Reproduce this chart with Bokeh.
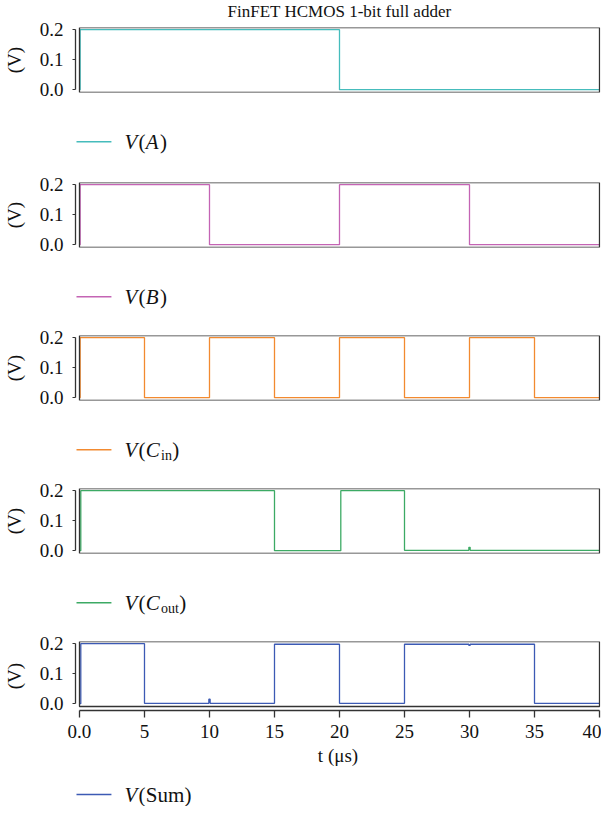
from bokeh.plotting import figure
from bokeh.models import (Range1d, FixedTicker, BoxAnnotation, Label, Arrow,
                          PrintfTickFormatter)
from bokeh.layouts import column
from bokeh.embed import file_html
from bokeh.resources import INLINE

# ---------------- data ----------------
title_text = "FinFET HCMOS 1-bit full adder"

t_a = [0.0, 0.05, 20.0, 40.0]
v_a = [0.0, 0.2, 0.0, 0.0]

t_b = [0.0, 0.05, 10.0, 20.0, 30.0, 40.0]
v_b = [0.0, 0.2, 0.0, 0.2, 0.0, 0.0]

t_cin = [0.0, 0.05, 5.0, 10.0, 15.0, 20.0, 25.0, 30.0, 35.0, 40.0]
v_cin = [0.0, 0.2, 0.0, 0.2, 0.0, 0.2, 0.0, 0.2, 0.0, 0.0]

t_cout = [0.0, 0.1, 15.0, 20.1, 25.0, 29.95, 30.05, 40.0]
v_cout = [0.0, 0.2, 0.0, 0.2, 0.001, 0.011, 0.001, 0.001]

t_sum = [0.0, 0.1, 5.0, 9.95, 10.05, 15.0, 20.0, 25.0, 29.95, 30.05, 35.0, 40.0]
v_sum = [0.0, 0.2, 0.001, 0.015, 0.001, 0.198, 0.001, 0.198, 0.194, 0.198, 0.001, 0.001]

series_t = [t_a, t_b, t_cin, t_cout, t_sum]
series_v = [v_a, v_b, v_cin, v_cout, v_sum]
series_colors = ["#45bcbc", "#c464b4", "#f28a30", "#3caa64", "#3c5ab4"]
legend_main = ["A", "B", "C", "C", "Sum"]
legend_main_italic = [True, True, True, True, False]
legend_sub = ["", "", "in", "out", ""]

y_ticks = [0.0, 0.1, 0.2]
x_ticks = [0, 5, 10, 15, 20, 25, 30, 35, 40]
x_label = "t (μs)"
y_label = "(V)"

# ---------------- geometry / style ----------------
FONT = "Liberation Serif"
W = 601
BL, BR = 74, 1
FRAME_W = W - BL - BR
KX = 521 / 40.0          # px per µs
KY = 300.0               # px per V
X_END = 40.0 + BR / KX
X_START = X_END - FRAME_W / KX
Y_TOP = 0.2072
FRAME_H = 65
Y_BOT = Y_TOP - FRAME_H / KY
FRAME_H5 = 69
Y_BOT5 = Y_TOP - FRAME_H5 / KY
TICK_FS = "19px"
LAB_FS = "19px"
FS = 21
SUBFS = 14
SUBDROP = 6
GAP = 0.3

W_REG = {"(": .333, ")": .333, "S": .556, "u": .5, "m": .778, "i": .278,
         "n": .5, "o": .5, "t": .278}
W_IT = {"V": .611, "A": .611, "B": .611, "C": .667, "(": .333, ")": .333}


def tw(text, italic, fs):
    tab = W_IT if italic else W_REG
    return sum(tab.get(c, .5) for c in text) * fs + (1.0 if italic else 0.0)


def px2x(px):
    return X_START + (px - BL) / KX


def strip(h):
    s = figure(width=W, height=h, x_range=Range1d(X_START, X_END),
               y_range=Range1d(-h, 0),
               min_border_left=BL, min_border_right=BR,
               min_border_top=0, min_border_bottom=0,
               x_axis_location=None, y_axis_location=None,
               outline_line_color=None, toolbar_location=None,
               output_backend="svg", background_fill_color="white",
               border_fill_color="white")
    s.grid.visible = False
    return s


def legend_strip(color, main, main_it, sub, h, y_line):
    s = strip(h)
    s.add_layout(Arrow(x_start=px2x(75), y_start=-y_line, x_end=px2x(110),
                       y_end=-y_line, start=None, end=None,
                       line_color=color, line_width=1.5))
    pieces = [("V", True, FS, 0), ("(", False, FS, 0), (main, main_it, FS, 0)]
    if sub:
        pieces.append((sub, False, SUBFS, SUBDROP))
    pieces.append((")", False, FS, 0))
    x = 123.0
    for text, it, fs, drop in pieces:
        s.add_layout(Label(x=px2x(x), y=-(y_line + drop), text=text,
                           text_font=FONT, text_font_size=f"{fs}px",
                           text_font_style="italic" if it else "normal",
                           text_color="#111", text_baseline="middle",
                           text_align="left"))
        x += tw(text, it, fs) + GAP
    return s


items = []

# title strip
ts = strip(19)
ts.add_layout(Label(x=(t_a[0] + t_a[-1]) / 2, y=-10.5, text=title_text,
                    text_font=FONT, text_font_size="17px",
                    text_font_style="normal", text_color="#111",
                    text_baseline="middle", text_align="center"))
items.append(ts)

for i in range(5):
    last = (i == 4)
    first = (i == 0)
    fh = FRAME_H5 if last else FRAME_H
    ybot = Y_BOT5 if last else Y_BOT
    btop = 8 if first else 10
    bbot = 64 if last else 8
    kw = dict(width=W, height=btop + fh + bbot,
              x_range=Range1d(X_START, X_END), y_range=Range1d(ybot, Y_TOP),
              output_backend="svg", toolbar_location=None,
              x_axis_location="below" if last else None,
              min_border_left=BL, min_border_right=BR,
              min_border_top=btop, min_border_bottom=bbot,
              outline_line_color=None,
              background_fill_color="white", border_fill_color="white")
    p = figure(**kw)
    p.grid.visible = False

    t = series_t[i]
    v = series_v[i]
    p.step(x=t, y=v, mode="after", line_color=series_colors[i], line_width=1.3)

    p.add_layout(BoxAnnotation(left=t[0], right=t[-1],
                               bottom=(Y_BOT if last else None),
                               fill_color=None, fill_alpha=0,
                               line_color="#333", line_alpha=1, line_width=1.3))

    ya = p.yaxis[0]
    ya.ticker = FixedTicker(ticks=y_ticks)
    ya.formatter = PrintfTickFormatter(format="%.1f")
    ya.bounds = (y_ticks[0], y_ticks[-1])
    ya.major_tick_out = 3
    ya.major_tick_in = 0
    ya.minor_tick_out = 0
    ya.minor_tick_in = 0
    ya.axis_line_color = "#333"
    ya.axis_line_width = 1.3
    ya.major_tick_line_color = "#333"
    ya.major_label_standoff = 9
    ya.major_label_text_font = FONT
    ya.major_label_text_font_size = TICK_FS
    ya.major_label_text_color = "#111"
    ya.axis_label = y_label
    ya.axis_label_text_font = FONT
    ya.axis_label_text_font_size = LAB_FS
    ya.axis_label_text_font_style = "normal"
    ya.axis_label_text_color = "#111"
    ya.axis_label_standoff = 12

    if last:
        xa = p.xaxis[0]
        xa.ticker = FixedTicker(ticks=x_ticks)
        xa.major_label_overrides = {0: "0.0"}
        xa.bounds = (x_ticks[0], x_ticks[-1])
        xa.major_tick_out = 7
        xa.major_tick_in = 0
        xa.minor_tick_out = 0
        xa.minor_tick_in = 0
        xa.axis_line_color = "#333"
        xa.axis_line_width = 1.3
        xa.major_tick_line_color = "#333"
        xa.major_tick_line_width = 1.3
        xa.major_label_standoff = 7
        xa.major_label_text_font = FONT
        xa.major_label_text_font_size = TICK_FS
        xa.major_label_text_color = "#111"
        xa.axis_label = x_label
        xa.axis_label_text_font = FONT
        xa.axis_label_text_font_size = LAB_FS
        xa.axis_label_text_font_style = "normal"
        xa.axis_label_text_color = "#111"
        xa.axis_label_standoff = 4
    items.append(p)

    zero_to_canvas_bottom = (0 - ybot) * KY + bbot
    if last:
        h, y_line = 32, 20
    elif first:
        h, y_line = 72, 52.0 - zero_to_canvas_bottom
    else:
        h, y_line = 70, 52.0 - zero_to_canvas_bottom
    items.append(legend_strip(series_colors[i], legend_main[i],
                              legend_main_italic[i], legend_sub[i], h, y_line))

layout = column(*items, spacing=0)
open("out.html", "w").write(file_html(layout, INLINE))
